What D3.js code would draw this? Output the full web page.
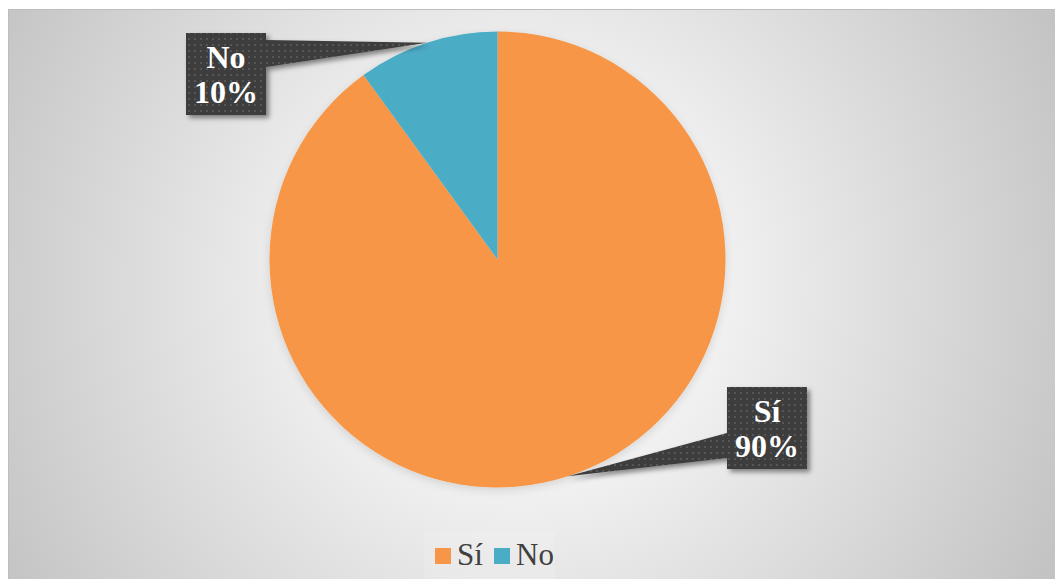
<!DOCTYPE html>
<html>
<head>
<meta charset="utf-8">
<script src="https://cdn.jsdelivr.net/npm/d3@7"></script>
<style>
  html, body { margin: 0; padding: 0; background: #ffffff; }
  svg { display: block; }
  .serif { font-family: "Liberation Serif", "Times New Roman", Times, serif; }
</style>
</head>
<body>
<svg id="chart" width="1055" height="579"></svg>
<script>
// Survey answers and their shares (%)
const categories = ["Sí", "No"];
const values = [90, 10];
const labelTexts = ["90%", "10%"];
const colors = ["#F79646", "#4BACC6"];

const W = 1055, H = 579;
const svg = d3.select("#chart");
const defs = svg.append("defs");

// Background: soft radial fade from white to grey
const bg = defs.append("radialGradient")
  .attr("id", "bgGrad")
  .attr("gradientUnits", "userSpaceOnUse")
  .attr("cx", 520).attr("cy", 285).attr("r", 600);
bg.append("stop").attr("offset", "0%").attr("stop-color", "#ffffff");
bg.append("stop").attr("offset", "25%").attr("stop-color", "#f7f7f7");
bg.append("stop").attr("offset", "100%").attr("stop-color", "#c3c3c3");

// Dotted dark fill for the data-label callouts
const pat = defs.append("pattern")
  .attr("id", "dots")
  .attr("patternUnits", "userSpaceOnUse")
  .attr("width", 6).attr("height", 6);
pat.append("rect").attr("width", 6).attr("height", 6).attr("fill", "#3d3d3d");
pat.append("rect").attr("x", 2).attr("y", 2).attr("width", 2).attr("height", 2).attr("fill", "#575757");

const shadow = defs.append("filter").attr("id", "shadow")
  .attr("x", "-20%").attr("y", "-20%").attr("width", "150%").attr("height", "150%");
shadow.append("feDropShadow")
  .attr("dx", 3).attr("dy", 3).attr("stdDeviation", 2.5)
  .attr("flood-color", "#000").attr("flood-opacity", 0.45);

const pieShadow = defs.append("filter").attr("id", "pieShadow")
  .attr("x", "-10%").attr("y", "-10%").attr("width", "120%").attr("height", "125%");
pieShadow.append("feDropShadow")
  .attr("dx", 0).attr("dy", 3).attr("stdDeviation", 4)
  .attr("flood-color", "#000").attr("flood-opacity", 0.12);

// Chart area
svg.append("rect")
  .attr("x", 8.5).attr("y", 9.5)
  .attr("width", W).attr("height", H)
  .attr("fill", "url(#bgGrad)")
  .attr("stroke", "#bdbdbd").attr("stroke-width", 1);

// Pie
const cx = 497.5, cy = 259.5, radius = 228;
const data = categories.map((c, i) => ({ cat: c, value: values[i], label: labelTexts[i], color: colors[i] }));

const pie = d3.pie().sort(null).value(d => d.value);
const arcs = pie(data);
const arc = d3.arc().innerRadius(0).outerRadius(radius);

const g = svg.append("g").attr("transform", `translate(${cx},${cy})`);
g.append("g").attr("filter", "url(#pieShadow)")
  .selectAll("path")
  .data(arcs)
  .join("path")
  .attr("d", arc)
  .attr("fill", d => d.data.color);

// Callout boxes: box placement relative to chart, tip at the slice's outer mid-point
const boxW = 80, boxH = 82;
const boxes = [
  { x: 727, y: 387, side: "left",  base: [46, 71] },   // Sí
  { x: 186, y: 33,  side: "right", base: [7, 34] }     // No
];

const labelLayer = svg.append("g");
arcs.forEach((a, i) => {
  const mid = (a.startAngle + a.endAngle) / 2;
  const tip = [cx + radius * Math.sin(mid), cy - radius * Math.cos(mid)];
  const b = boxes[i];
  const ex = b.side === "left" ? b.x : b.x + boxW;
  const callout = d3.path();
  callout.moveTo(b.x, b.y);
  if (b.side === "right") {
    callout.lineTo(b.x + boxW, b.y);
    callout.lineTo(ex, b.y + b.base[0]);
    callout.lineTo(tip[0], tip[1]);
    callout.lineTo(ex, b.y + b.base[1]);
    callout.lineTo(b.x + boxW, b.y + boxH);
    callout.lineTo(b.x, b.y + boxH);
  } else {
    callout.lineTo(b.x + boxW, b.y);
    callout.lineTo(b.x + boxW, b.y + boxH);
    callout.lineTo(b.x, b.y + boxH);
    callout.lineTo(ex, b.y + b.base[1]);
    callout.lineTo(tip[0], tip[1]);
    callout.lineTo(ex, b.y + b.base[0]);
  }
  callout.closePath();

  labelLayer.append("path")
    .attr("d", callout.toString())
    .attr("fill", "url(#dots)")
    .attr("filter", "url(#shadow)");

  const t = labelLayer.append("text")
    .attr("class", "serif")
    .attr("x", b.x + boxW / 2)
    .attr("text-anchor", "middle")
    .attr("font-weight", "bold")
    .attr("font-size", 32)
    .attr("fill", "#ffffff");
  t.append("tspan").attr("x", b.x + boxW / 2).attr("y", b.y + 35).text(a.data.cat);
  t.append("tspan").attr("x", b.x + boxW / 2).attr("y", b.y + 70).text(a.data.label);
});

// Legend
const legend = svg.append("g");
legend.append("rect")
  .attr("x", 424).attr("y", 531).attr("width", 131).attr("height", 48)
  .attr("fill", "#ffffff").attr("opacity", 0.12);

const legendItems = [
  { x: 435, textX: 457 },
  { x: 494, textX: 516 }
];
data.forEach((d, i) => {
  legend.append("rect")
    .attr("x", legendItems[i].x).attr("y", 548)
    .attr("width", 16).attr("height", 16)
    .attr("fill", d.color);
  legend.append("text")
    .attr("class", "serif")
    .attr("x", legendItems[i].textX).attr("y", 565)
    .attr("font-size", 31)
    .attr("fill", "#404040")
    .text(d.cat);
});
</script>
</body>
</html>
